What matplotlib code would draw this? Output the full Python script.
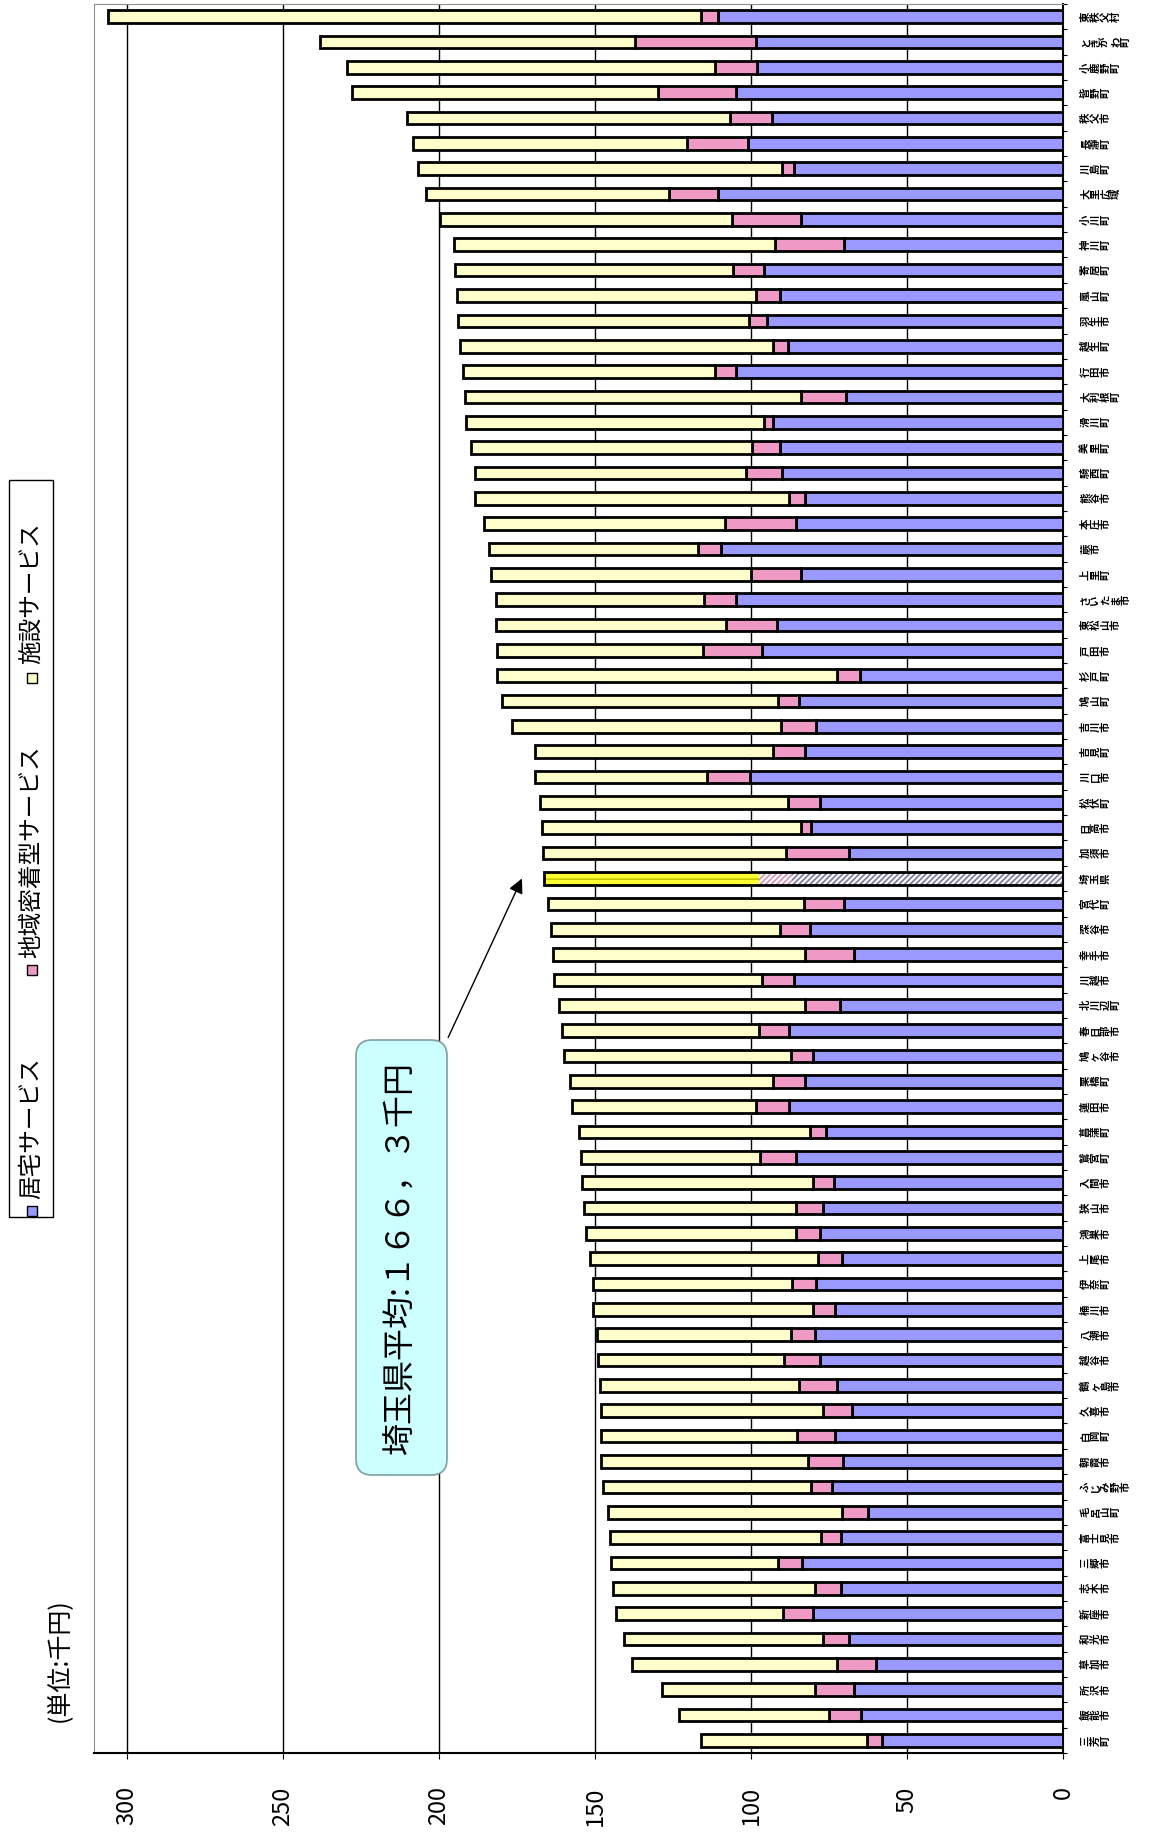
import numpy as np
import matplotlib.pyplot as plt
from matplotlib.patches import Rectangle, FancyBboxPatch
from matplotlib.transforms import IdentityTransform

plt.rcParams['font.family'] = ['Noto Sans CJK JP', 'DejaVu Sans']
plt.rcParams['hatch.linewidth'] = 1.2

# data (千円), listed top to bottom as in the picture
names = ['東秩父村', 'ときがわ町', '小鹿野町', '皆野町', '秩父市', '長瀞町', '川島町', '大里広域',
         '小川町', '神川町', '寄居町', '嵐山町', '羽生市', '越生町', '行田市', '大利根町',
         '滑川町', '美里町', '騎西町', '熊谷市', '本庄市', '蕨市', '上里町', 'さいたま市',
         '東松山市', '戸田市', '杉戸町', '鳩山町', '吉川市', '吉見町', '川口市', '松伏町',
         '日高市', '加須市', '埼玉県', '宮代町', '深谷市', '幸手市', '川越市', '北川辺町',
         '春日部市', '鳩ヶ谷市', '栗橋町', '蓮田市', '菖蒲町', '鷲宮町', '入間市', '狭山市',
         '鴻巣市', '上尾市', '伊奈町', '桶川市', '八潮市', '越谷市', '鶴ヶ島市', '久喜市',
         '白岡町', '朝霞市', 'ふじみ野市', '毛呂山町', '富士見市', '三郷市', '志木市', '新座市',
         '和光市', '草加市', '所沢市', '飯能市', '三芳町']
kyotaku = [110.6, 98.5, 97.9, 104.9, 93.4, 100.9, 86.3, 110.6, 84.1, 70.1, 95.8, 90.8,
           94.8, 88.1, 104.7, 69.5, 92.8, 90.8, 90.2, 82.7, 85.7, 109.6, 84.1, 104.9,
           91.8, 96.4, 65.0, 84.7, 79.0, 82.7, 100.3, 78.0, 80.6, 68.5, 86.7, 70.1,
           81.2, 66.9, 86.1, 71.3, 87.7, 80.0, 82.7, 87.7, 76.0, 85.7, 73.5, 77.0,
           78.0, 70.9, 79.0, 72.9, 79.6, 78.0, 72.5, 67.5, 72.9, 70.5, 74.1, 62.4,
           71.1, 83.7, 71.1, 80.2, 68.5, 60.0, 67.1, 64.8, 57.9]
chiiki = [5.3, 38.5, 13.7, 25.0, 13.2, 19.6, 3.9, 15.6, 21.9, 22.3, 9.8, 7.7,
          5.7, 4.7, 6.9, 14.6, 3.0, 8.7, 11.3, 5.0, 22.7, 7.3, 15.8, 10.2,
          16.2, 19.1, 7.5, 6.7, 11.4, 10.1, 13.8, 10.1, 3.5, 20.2, 10.7, 13.0,
          9.6, 15.8, 10.3, 11.4, 9.7, 7.1, 10.1, 10.8, 5.0, 11.5, 6.5, 8.7,
          7.7, 7.7, 7.7, 7.1, 7.7, 11.3, 12.2, 9.5, 12.2, 11.1, 6.5, 8.5,
          6.5, 7.7, 8.5, 9.5, 8.5, 12.5, 12.5, 10.2, 4.9]
shisetsu = [190.0, 101.0, 117.7, 98.0, 103.7, 87.8, 116.6, 78.0, 93.6, 102.9, 89.3, 95.8,
            93.4, 100.5, 80.7, 107.6, 95.4, 90.3, 86.9, 100.7, 77.0, 66.9, 83.4, 66.6,
            73.7, 65.8, 108.8, 88.3, 86.1, 76.4, 55.1, 79.6, 83.0, 77.8, 68.9, 82.0,
            73.3, 80.8, 66.7, 78.8, 63.1, 72.9, 65.2, 58.9, 74.0, 57.2, 74.0, 67.7,
            67.3, 73.1, 64.0, 70.7, 62.0, 59.6, 63.6, 70.9, 62.8, 66.3, 66.7, 75.0,
            67.7, 53.5, 64.6, 53.5, 63.8, 65.7, 48.8, 48.2, 53.1]
series_names = ['居宅サービス', '地域密着型サービス', '施設サービス']
colors = ['#9999FF', '#EE9AC4', '#FFFFCC']
tick_vals = [0, 50, 100, 150, 200, 250, 300]
avg_name = '埼玉県'
avg_text = '埼玉県平均:１６６，３千円'

W, H = 1160, 1842
fig = plt.figure(figsize=(W / 100, H / 100), dpi=100)
ax = fig.add_axes([94 / W, 1 - 1753 / H, (1063 - 94) / W, (1753 - 4) / H])

y = np.arange(len(names))
kyo = np.array(kyotaku)
chi = np.array(chiiki)
shi = np.array(shisetsu)
normal = np.array([n != avg_name for n in names])
h = 0.5

ax.barh(y[normal], kyo[normal], height=h, color=colors[0], edgecolor='black', lw=2, zorder=3)
ax.barh(y[normal], chi[normal], left=kyo[normal], height=h, color=colors[1],
        edgecolor='black', lw=2, zorder=3)
ax.barh(y[normal], shi[normal], left=kyo[normal] + chi[normal], height=h, color=colors[2],
        edgecolor='black', lw=2, zorder=3)

# prefecture average bar, hatched
i = names.index(avg_name)
ax.barh(i, kyo[i], height=h, color='white', hatch='//////', edgecolor='#7878A0', lw=0, zorder=3)
ax.barh(i, chi[i], left=kyo[i], height=h, color='white', hatch='//////', edgecolor='#D890B8',
        lw=0, zorder=3)
ax.barh(i, shi[i], left=kyo[i] + chi[i], height=h, color='#FFFF33', hatch='--',
        edgecolor='#C8C800', lw=0, zorder=3)
ax.barh(i, kyo[i] + chi[i] + shi[i], height=h, fill=False, edgecolor='black', lw=2, zorder=4)

ax.set_xlim(310.5, 0)
ax.set_ylim(len(names) - 0.5, -0.5)
ax.set_xticks(tick_vals)
ax.set_xticklabels([str(v) for v in tick_vals], rotation=90, fontsize=17)
ax.tick_params(axis='x', length=4, direction='out', pad=20)
ax.grid(axis='x', color='black', lw=1, zorder=0)
ax.set_axisbelow(True)

ax.yaxis.tick_right()
ax.set_yticks(np.arange(-0.5, len(names), 1))
ax.set_yticklabels([])
ax.tick_params(axis='y', length=3, direction='out')

for s in ['left', 'top']:
    ax.spines[s].set_color('#909090')
ax.spines['right'].set_lw(1.5)
ax.spines['bottom'].set_lw(1.5)

# category labels (stacked characters, rotated)
lab_tr = ax.get_yaxis_transform()
for k, name in enumerate(names):
    ax.text(1.018, k, '\n'.join(name), transform=lab_tr, rotation=90, ha='left', va='center',
            fontsize=7.5, fontweight='bold', linespacing=1.0, multialignment='center')

# average callout
px = IdentityTransform()
box = FancyBboxPatch((356, H - 1475), 91, 435, boxstyle='round,pad=0,rounding_size=16',
                     transform=px, fc='#CCFFFF', ec='#7F9F9F', lw=1.2)
fig.add_artist(box)
fig.text(401, H - 1257, avg_text, transform=px, rotation=90, ha='center', va='center',
         fontsize=23)
ax.annotate('', xy=(173, 33.9), xycoords='data', xytext=(447, H - 1040),
            textcoords='figure pixels',
            arrowprops=dict(arrowstyle='-|>', color='black', lw=1, mutation_scale=22))

# legend
fig.add_artist(Rectangle((9, H - 1217), 44, 737, transform=px, fill=False, ec='black', lw=1))
leg_sq = [1211, 970, 678]
leg_txt = [1199, 958, 664]
for c, lbl, sq, tx in zip(colors, series_names, leg_sq, leg_txt):
    fig.add_artist(Rectangle((27, H - sq - 5), 10, 10, transform=px, fc=c, ec='black', lw=1))
    fig.text(32, H - tx, lbl, transform=px, rotation=90, ha='center', va='bottom', fontsize=17)

fig.text(59, H - 1722, '(単位:千円)', transform=px, rotation=90, ha='center', va='bottom',
         fontsize=18)

fig.savefig('out.png', dpi=100)
